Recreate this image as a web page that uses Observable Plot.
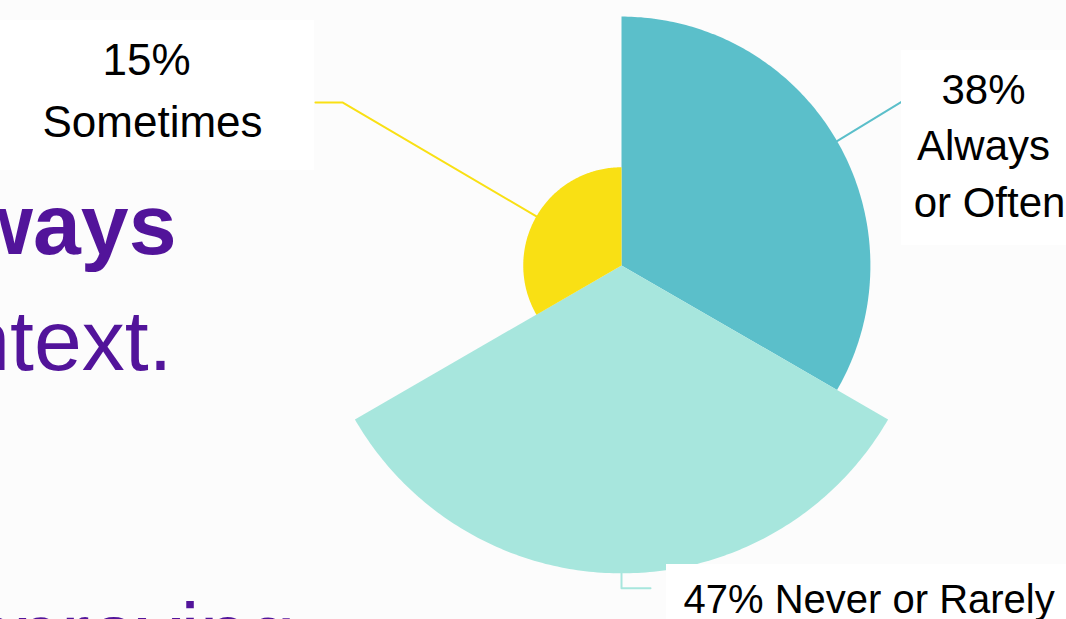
<!DOCTYPE html>
<html>
<head>
<meta charset="utf-8">
<script src="https://cdn.jsdelivr.net/npm/d3@7"></script>
<script src="https://cdn.jsdelivr.net/npm/@observablehq/plot@0.6"></script>
<style>
  html, body { margin: 0; padding: 0; background: #fcfcfc; overflow: hidden; }
  #wrap { position: relative; width: 1066px; height: 619px; overflow: hidden; }
  #wrap svg { display: block; }
</style>
</head>
<body>
<div id="wrap"></div>
<script>
// ---- data ----
const categories = ["Always or Often", "Never or Rarely", "Sometimes"];
const percents = [38, 47, 15];
const percentLabels = ["38%", "47%", "15%"];
const sliceColors = ["#5bbfca", "#a7e6dd", "#f9e014"];
const backgroundWords = ["Always", "context.", "improving"];

// ---- layout ----
const W = 1066, H = 619;
const CX = 621, CY = 265, K = 6.55; // centre in px, px per percentage unit
const xDomain = [-CX / K, (W - CX) / K];
const yDomain = [-(H - CY) / K, CY / K];
const px = x => (x - CX) / K;
const py = y => (CY - y) / K;

const n = categories.length;
const step = 2 * Math.PI / n;
const slices = categories.map((c, i) => ({
  cat: c, value: percents[i], color: sliceColors[i],
  a0: i * step, a1: (i + 1) * step
}));

function wedge(s) {
  const pts = [{x: 0, y: 0}];
  const N = 160;
  for (let j = 0; j <= N; j++) {
    const a = s.a0 + (s.a1 - s.a0) * j / N;
    pts.push({x: s.value * Math.sin(a), y: s.value * Math.cos(a)});
  }
  return pts;
}
function mid(s) {
  const a = (s.a0 + s.a1) / 2;
  return {x: s.value * Math.sin(a), y: s.value * Math.cos(a)};
}

// leader line elbows as pixel offsets from each slice's outer mid-point
const leaderOffsets = [
  [[0, 0], [64, -39]],
  [[0, 0], [0, 15], [29, 15]],
  [[0, 0], [-194, -114], [-221, -114]]
];
const leaders = slices.map((s, i) => {
  const m = mid(s);
  return leaderOffsets[i].map(([ox, oy]) => ({x: m.x + ox / K, y: m.y - oy / K, cat: s.cat}));
});

// label boxes (white) and texts, in pixel layout converted to data units
const boxes = [
  {x1: px(901), x2: px(1080), y1: py(245), y2: py(50)},
  {x1: px(666), x2: px(1080), y1: py(630), y2: py(564)},
  {x1: px(-10), x2: px(314), y1: py(170), y2: py(20)}
];
const labelTexts = [
  {t: percentLabels[0], x: px(983), y: py(103), size: 42, anchor: "middle"},
  {t: "Always", x: px(983), y: py(159), size: 42, anchor: "middle"},
  {t: "or Often", x: px(989), y: py(216), size: 42, anchor: "middle"},
  {t: percentLabels[1] + " Never or Rarely", x: px(683), y: py(612), size: 40, anchor: "start"},
  {t: percentLabels[2], x: px(146), y: py(74), size: 44, anchor: "middle"},
  {t: "Sometimes", x: px(152), y: py(136), size: 44, anchor: "middle"}
];
const bgTexts = [
  {t: backgroundWords[0], x: px(176), y: py(253), weight: "bold", anchor: "end"},
  {t: backgroundWords[1], x: px(172), y: py(369), weight: "normal", anchor: "end"},
  {t: backgroundWords[2], x: px(-78), y: py(662), weight: "normal", anchor: "start"}
];

const FONT = "'Liberation Sans', Arial, Helvetica, sans-serif";

const marks = [];
// background slide text
for (const b of bgTexts) {
  marks.push(Plot.text([b], {x: "x", y: "y", text: "t", fontSize: 86, fontWeight: b.weight,
    fill: "#52149a", textAnchor: b.anchor, lineAnchor: "bottom", fontFamily: FONT}));
}
// wedges
slices.forEach(s => {
  marks.push(Plot.line(wedge(s), {x: "x", y: "y", fill: s.color, stroke: "none", curve: "linear-closed"}));
});
// leaders
leaders.forEach((L, i) => {
  marks.push(Plot.line(L, {x: "x", y: "y", stroke: sliceColors[i], strokeWidth: 2}));
});
// label boxes
marks.push(Plot.rect(boxes, {x1: "x1", x2: "x2", y1: "y1", y2: "y2", fill: "white"}));
// label texts
for (const l of labelTexts) {
  marks.push(Plot.text([l], {x: "x", y: "y", text: "t", fontSize: l.size, fill: "#000",
    textAnchor: l.anchor, lineAnchor: "bottom", fontFamily: FONT}));
}

const chart = Plot.plot({
  width: W, height: H,
  marginTop: 0, marginRight: 0, marginBottom: 0, marginLeft: 0,
  x: {domain: xDomain, axis: null},
  y: {domain: yDomain, axis: null},
  style: {background: "transparent", overflow: "visible", fontFamily: FONT},
  marks
});
document.getElementById("wrap").appendChild(chart);
</script>
</body>
</html>
